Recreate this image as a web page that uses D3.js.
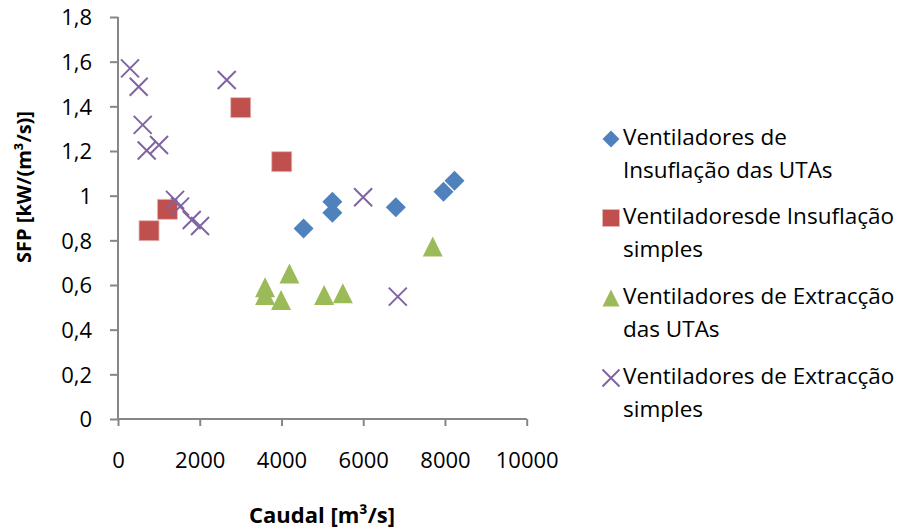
<!DOCTYPE html>
<html>
<head>
<meta charset="utf-8">
<script src="https://cdn.jsdelivr.net/npm/d3@7/dist/d3.min.js"></script>
<style>
  html, body { margin: 0; padding: 0; background: #fff; }
  svg text { font-family: "Open Sans", sans-serif; fill: #000; }
</style>
</head>
<body>
<svg id="chart" width="909" height="529"></svg>
<script>
// Caudal (m³/s) and SFP (kW/(m³/s)) per fan group
const insuflacaoUtasX = [4540, 5246, 5246, 6797, 7964, 8233];
const insuflacaoUtasY = [0.853, 0.973, 0.924, 0.948, 1.018, 1.067];

const insuflacaoSimplesX = [759, 1208, 3003, 4007];
const insuflacaoSimplesY = [0.843, 0.939, 1.394, 1.152];

const extraccaoUtasX = [3598, 3598, 3990, 4194, 5043, 5500, 7701];
const extraccaoUtasY = [0.590, 0.555, 0.533, 0.652, 0.555, 0.563, 0.772];

const extraccaoSimplesX = [294, 506, 604, 702, 1004, 2660, 1395, 1518, 1804, 2007, 5998, 6846];
const extraccaoSimplesY = [1.570, 1.488, 1.317, 1.202, 1.227, 1.518, 0.981, 0.951, 0.891, 0.864, 0.993, 0.548];

const xTicks = [0, 2000, 4000, 6000, 8000, 10000];
const yTicks = [0, 0.2, 0.4, 0.6, 0.8, 1, 1.2, 1.4, 1.6, 1.8];

const seriesNames = [
  ["Ventiladores de", "Insuflação das UTAs"],
  ["Ventiladoresde Insuflação", "simples"],
  ["Ventiladores de Extracção", "das UTAs"],
  ["Ventiladores de Extracção", "simples"]
];
const seriesColors = ["#4F81BD", "#C0504D", "#9BBB59", "#8064A2"];
const seriesShapes = ["diamond", "square", "triangle", "cross"];

const svg = d3.select("#chart");
const axisColor = "#868686";

const x = d3.scaleLinear().domain([0, 10000]).range([118, 526.7]);
const y = d3.scaleLinear().domain([0, 1.8]).range([419, 17]);

const fmt = v => String(v).replace(".", ",");

// Axes
const xAxis = d3.axisBottom(x).tickValues(xTicks).tickSize(7).tickPadding(30).tickFormat(d => d);
const yAxis = d3.axisLeft(y).tickValues(yTicks).tickSize(8).tickPadding(18).tickFormat(fmt);

const gx = svg.append("g").attr("transform", `translate(0,${y(0)})`).call(xAxis);
const gy = svg.append("g").attr("transform", `translate(${x(0)},0)`).call(yAxis);

[gx, gy].forEach(g => {
  g.select(".domain").attr("stroke", axisColor).attr("stroke-width", 2);
  g.selectAll(".tick line").attr("stroke", axisColor).attr("stroke-width", 2);
  g.selectAll(".tick text").style("font-size", "22px").style("font-family", "'Open Sans', sans-serif").attr("fill", "#000");
});
gx.selectAll(".tick text").attr("dy", "0.55em");
gy.selectAll(".tick text").attr("dy", "0.36em");
// plain axis lines without outer tick stubs
gx.select(".domain").attr("d", `M${x(0)},0H${x(10000)}`);
gy.select(".domain").attr("d", `M0,${y(0)}V${y(1.8)}`);

// Axis titles
svg.append("text")
  .attr("x", 322).attr("y", 517)
  .attr("text-anchor", "middle").attr("dominant-baseline", "middle")
  .style("font-size", "22px").style("font-weight", "bold")
  .text("Caudal [m³/s]");

svg.append("text")
  .attr("transform", "translate(26,187) rotate(-90)")
  .attr("text-anchor", "middle").attr("dominant-baseline", "middle")
  .style("font-size", "20px").style("font-weight", "bold")
  .text("SFP [kW/(m³/s)]");

// Marker drawing
function drawMarker(g, shape, color, size) {
  const h = size / 2;
  if (shape === "diamond") {
    g.append("path").attr("d", `M0,${-h}L${h},0L0,${h}L${-h},0Z`).attr("fill", color);
  } else if (shape === "square") {
    g.append("rect").attr("x", -h).attr("y", -h).attr("width", size).attr("height", size)
      .attr("fill", color).attr("stroke", "#E6B9B8").attr("stroke-width", 0.8);
  } else if (shape === "triangle") {
    g.append("path").attr("d", `M0,${-h}L${h},${h}L${-h},${h}Z`).attr("fill", color);
  } else {
    g.append("path").attr("d", `M${-h},${-h}L${h},${h}M${-h},${h}L${h},${-h}`)
      .attr("stroke", color).attr("stroke-width", 2).attr("fill", "none");
  }
}

const series = [
  { xs: insuflacaoUtasX, ys: insuflacaoUtasY },
  { xs: insuflacaoSimplesX, ys: insuflacaoSimplesY },
  { xs: extraccaoUtasX, ys: extraccaoUtasY },
  { xs: extraccaoSimplesX, ys: extraccaoSimplesY }
];
const markerSizes = [20, 20, 20, 18];

series.forEach((s, i) => {
  const g = svg.append("g");
  s.xs.forEach((xv, j) => {
    const m = g.append("g").attr("transform", `translate(${x(xv)},${y(s.ys[j])})`);
    drawMarker(m, seriesShapes[i], seriesColors[i], markerSizes[i]);
  });
});

// Legend
const legendTop = [139, 218, 298, 378];
const legend = svg.append("g");
seriesNames.forEach((lines, i) => {
  const m = legend.append("g").attr("transform", `translate(611,${legendTop[i]})`);
  drawMarker(m, seriesShapes[i], seriesColors[i], 17);
  lines.forEach((t, k) => {
    legend.append("text")
      .attr("x", 623).attr("y", legendTop[i] + k * 33)
      .attr("dominant-baseline", "middle")
      .style("font-size", "22.5px")
      .text(t);
  });
});
</script>
</body>
</html>
